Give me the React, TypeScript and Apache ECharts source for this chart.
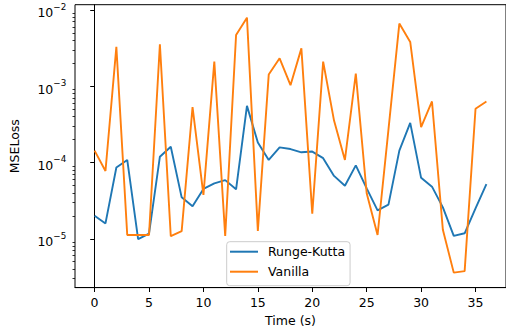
import React, { useEffect, useRef } from "react";
import * as echarts from "echarts";

const timeSteps = [0, 1, 2, 3, 4, 5, 6, 7, 8, 9, 10, 11, 12, 13, 14, 15, 16, 17, 18, 19, 20, 21, 22, 23, 24, 25, 26, 27, 28, 29, 30, 31, 32, 33, 34, 35, 36];

const rungeKutta = [
  2.0e-5, 1.59e-5, 8.6e-5, 1.08e-4, 9.9e-6, 1.17e-5, 1.19e-4, 1.61e-4, 3.49e-5, 2.66e-5,
  4.5e-5, 5.31e-5, 5.87e-5, 4.45e-5, 5.52e-4, 1.83e-4, 1.08e-4, 1.58e-4, 1.5e-4, 1.36e-4,
  1.39e-4, 1.14e-4, 6.67e-5, 4.96e-5, 9.16e-5, 4.58e-5, 2.36e-5, 2.8e-5, 1.43e-4, 3.31e-4,
  6.29e-5, 4.82e-5, 2.58e-5, 1.09e-5, 1.18e-5, 2.51e-5, 5.21e-5,
];

const vanilla = [
  1.43e-4, 7.74e-5, 3.27e-3, 1.12e-5, 1.12e-5, 1.12e-5, 3.55e-3, 1.08e-5, 1.26e-5, 5.32e-4,
  3.77e-5, 2.1e-3, 1.09e-5, 4.68e-3, 7.91e-3, 1.27e-5, 1.42e-3, 2.32e-3, 1.03e-3, 3.13e-3,
  2.14e-5, 2.1e-3, 3.54e-4, 1.08e-4, 1.46e-3, 3.95e-5, 1.12e-5, 2.7e-4, 6.61e-3, 3.8e-3,
  2.91e-4, 6.3e-4, 1.31e-5, 3.6e-6, 3.76e-6, 5.06e-4, 6.3e-4,
];

const xTicks = [0, 5, 10, 15, 20, 25, 30, 35];
const yMajorTicks = [1e-5, 1e-4, 1e-3, 1e-2];
const yMinorTicks = [
  3e-6, 4e-6, 5e-6, 6e-6, 7e-6, 8e-6, 9e-6,
  2e-5, 3e-5, 4e-5, 5e-5, 6e-5, 7e-5, 8e-5, 9e-5,
  2e-4, 3e-4, 4e-4, 5e-4, 6e-4, 7e-4, 8e-4, 9e-4,
  2e-3, 3e-3, 4e-3, 5e-3, 6e-3, 7e-3, 8e-3, 9e-3,
];

const FONT = "DejaVu Sans";
const Y_MIN = Math.pow(10, -5.64);
const Y_MAX = Math.pow(10, -1.932);

export default function App() {
  const ref = useRef<HTMLDivElement>(null);
  useEffect(() => {
    if (!ref.current) return;
    const chart = echarts.init(ref.current, undefined, { renderer: "svg" });
    const toPairs = (arr: number[]) => arr.map((v, i) => [timeSteps[i], v]);
    chart.setOption({
      animation: false,
      backgroundColor: "#ffffff",
      textStyle: { fontFamily: FONT },
      grid: {
        left: 69.3,
        right: -4,
        top: 4.7,
        bottom: 39.3,
        show: true,
        borderColor: "#000000",
        borderWidth: 1,
        backgroundColor: "transparent",
      },
      legend: {
        orient: "vertical",
        left: 226.7,
        top: 241.7,
        padding: [3, 5, 7, 3.3],
        icon: "rect",
        itemWidth: 28,
        itemHeight: 2,
        itemGap: 6,
        backgroundColor: "rgba(255,255,255,0.8)",
        borderColor: "#cccccc",
        borderWidth: 1,
        borderRadius: 3,
        textStyle: { fontFamily: FONT, fontSize: 12.5, color: "#000", lineHeight: 14, padding: [0, 0, 0, 5] },
        data: ["Runge-Kutta", "Vanilla"],
      },
      xAxis: {
        type: "value",
        min: -1.8,
        max: 37.8,
        name: "Time (s)",
        nameLocation: "middle",
        nameGap: 26,
        nameTextStyle: { fontFamily: FONT, fontSize: 12.5, color: "#000" },
        axisLine: { show: true, onZero: false, lineStyle: { color: "#000", width: 1 } },
        axisTick: { show: true, length: 4.4, customValues: xTicks, lineStyle: { color: "#000", width: 1 } },
        axisLabel: { customValues: xTicks, fontFamily: FONT, fontSize: 12.5, color: "#000", margin: 8.5 },
        splitLine: { show: false },
      },
      yAxis: [
        {
          type: "log",
          logBase: 10,
          min: Y_MIN,
          max: Y_MAX,
          name: "MSELoss",
          nameLocation: "middle",
          nameGap: 54,
          nameRotate: 90,
          nameTextStyle: { fontFamily: FONT, fontSize: 12.5, color: "#000" },
          axisLine: { show: true, lineStyle: { color: "#000", width: 1 } },
          axisTick: { show: true, length: 4.4, customValues: yMajorTicks, lineStyle: { color: "#000", width: 1 } },
          axisLabel: {
            customValues: yMajorTicks,
            margin: 8.8,
            formatter: (v: number) => {
              const e = Math.round(Math.log10(v));
              return "{b|10}{s|\u2212" + -e + "}";
            },
            rich: {
              b: { fontFamily: FONT, fontSize: 12.5, color: "#000", padding: [6, 0, 0, 0] },
              s: { fontFamily: FONT, fontSize: 8.75, color: "#000", padding: [0, 0, 6, 0] },
            },
          },
          splitLine: { show: false },
        },
        {
          type: "log",
          logBase: 10,
          min: Y_MIN,
          max: Y_MAX,
          position: "left",
          axisLine: { show: false },
          axisTick: { show: true, length: 2.5, customValues: yMinorTicks, lineStyle: { color: "#000", width: 0.8 } },
          axisLabel: { show: false },
          splitLine: { show: false },
        },
      ],
      series: [
        {
          name: "Runge-Kutta",
          type: "line",
          yAxisIndex: 0,
          data: toPairs(rungeKutta),
          symbol: "none",
          lineStyle: { color: "#1f77b4", width: 1.9 },
          itemStyle: { color: "#1f77b4" },
        },
        {
          name: "Vanilla",
          type: "line",
          yAxisIndex: 0,
          data: toPairs(vanilla),
          symbol: "none",
          lineStyle: { color: "#ff7f0e", width: 1.9 },
          itemStyle: { color: "#ff7f0e" },
        },
      ],
    });
    return () => chart.dispose();
  }, []);
  return (
    <div
      ref={ref}
      style={{ position: "absolute", left: 0, top: 0, width: 506, height: 332, background: "#fff" }}
    />
  );
}
